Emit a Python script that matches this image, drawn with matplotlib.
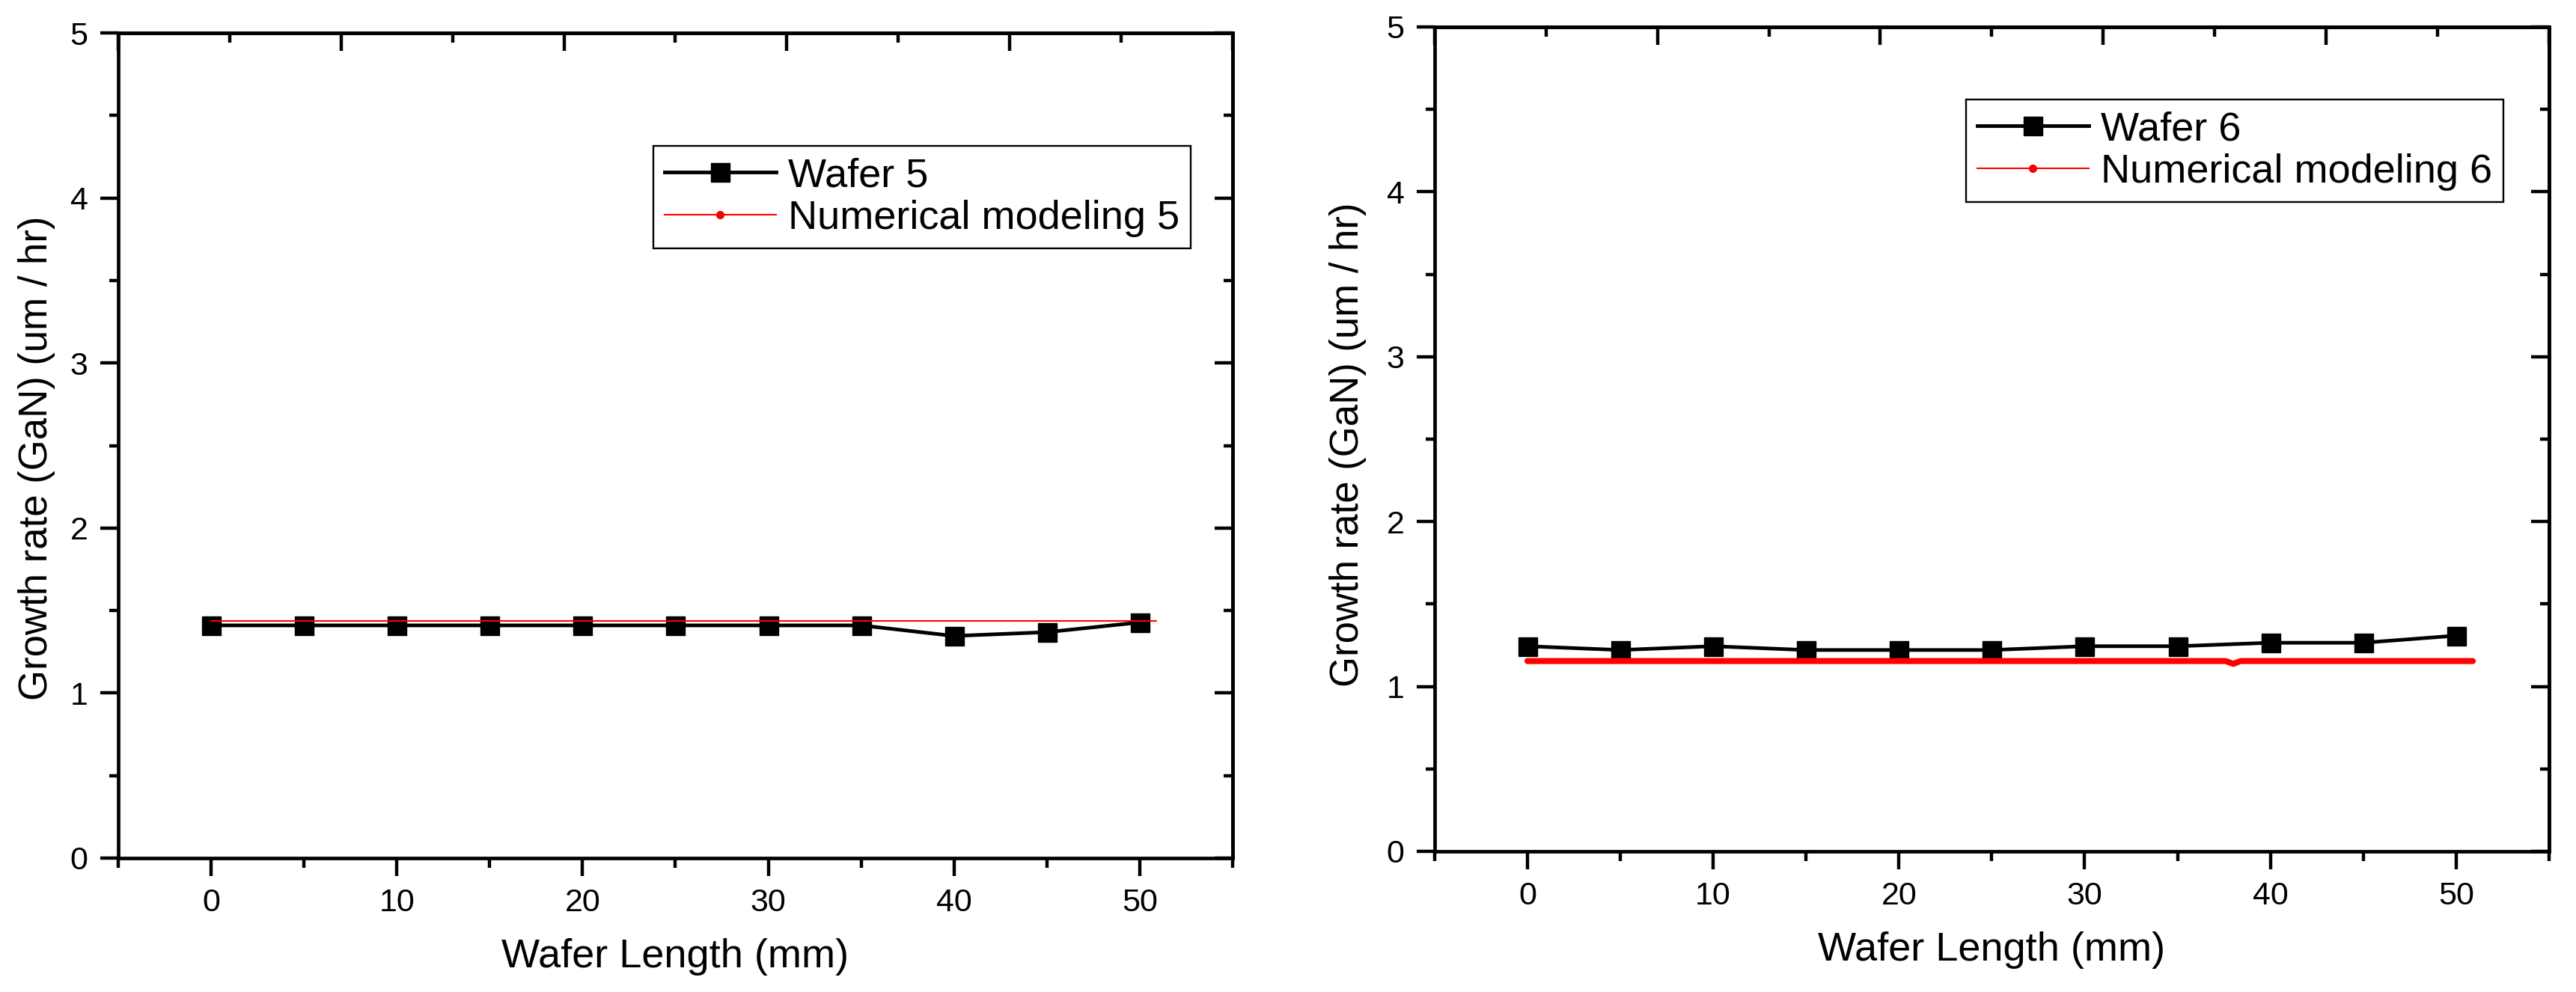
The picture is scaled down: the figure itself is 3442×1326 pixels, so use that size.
import matplotlib
matplotlib.use("Agg")
import matplotlib.pyplot as plt
from matplotlib.lines import Line2D
from matplotlib.ticker import MultipleLocator

plt.rcParams['font.family'] = ['Liberation Sans', 'DejaVu Sans']

# --- data ---
wafer_x = [0, 5, 10, 15, 20, 25, 30, 35, 40, 45, 50]
wafer5 = [1.41, 1.41, 1.41, 1.41, 1.41, 1.41, 1.41, 1.41, 1.346, 1.369, 1.428]
wafer6 = [1.244, 1.221, 1.244, 1.221, 1.221, 1.221, 1.244, 1.244, 1.265, 1.265, 1.308]

model5_x = [0, 50.9]
model5 = [1.437, 1.437]
model6_x = [0, 37.6, 38.0, 38.4, 50.9]
model6 = [1.154, 1.154, 1.137, 1.154, 1.154]

panels = [
    ("Wafer 5", "Numerical modeling 5", wafer5, model5_x, model5, 1.5),
    ("Wafer 6", "Numerical modeling 6", wafer6, model6_x, model6, 5.8),
]

x_label = "Wafer Length (mm)"
y_label = "Growth rate (GaN) (um / hr)"

fig = plt.figure(figsize=(34.42, 13.26), dpi=100)
ax_rects = [
    [0.0459, 0.1350, 0.4326, 0.8318],
    [0.5569, 0.1418, 0.4326, 0.8311],
]
legend_pos = [(873, 195), (2627, 133)]  # upper-left corner in pixels
ylabel_pos = [(-0.0564, 0.485), (-0.061, 0.493)]

for (w_lab, m_lab, w_y, m_x, m_y, m_lw), rect, lpos, ypos in zip(panels, ax_rects, legend_pos, ylabel_pos):
    ax = fig.add_axes(rect)
    ax.plot(m_x, m_y, color='red', lw=m_lw, solid_capstyle='round', zorder=3)
    ax.plot(wafer_x, w_y, color='black', lw=3.5, marker='s', ms=18, zorder=2)

    ax.set_xlim(-5, 55)
    ax.set_ylim(0, 5)
    ax.xaxis.set_major_locator(MultipleLocator(10))
    ax.xaxis.set_minor_locator(MultipleLocator(5))
    ax.yaxis.set_major_locator(MultipleLocator(1))
    ax.yaxis.set_minor_locator(MultipleLocator(0.5))
    ax.tick_params(which='major', direction='out', length=17, width=3.2,
                   labelsize=31, pad=12, top=False, right=False)
    ax.tick_params(which='minor', direction='out', length=9, width=3.2,
                   top=False, right=False)
    for s in ax.spines.values():
        s.set_linewidth(3.4)

    # Origin-style top / right axes with inward ticks
    top = ax.secondary_xaxis('top', functions=(lambda v: (v + 5) / 12.0,
                                                lambda t: t * 12.0 - 5))
    top.xaxis.set_major_locator(MultipleLocator(1))
    top.xaxis.set_minor_locator(MultipleLocator(0.5))
    top.tick_params(which='major', direction='in', length=17, width=3.2, labeltop=False)
    top.tick_params(which='minor', direction='in', length=9, width=3.2)
    top.spines['top'].set_linewidth(3.4)

    right = ax.secondary_yaxis('right')
    right.yaxis.set_major_locator(MultipleLocator(1))
    right.yaxis.set_minor_locator(MultipleLocator(0.5))
    right.tick_params(which='major', direction='in', length=17, width=3.2, labelright=False)
    right.tick_params(which='minor', direction='in', length=9, width=3.2)
    right.spines['right'].set_linewidth(3.4)

    ax.set_xlabel(x_label, fontsize=39)
    ax.set_ylabel(y_label, fontsize=38)
    ax.xaxis.set_label_coords(0.5, -0.097)
    ax.yaxis.set_label_coords(*ypos)

    handles = [
        Line2D([], [], color='black', lw=3.5, marker='s', ms=18),
        Line2D([], [], color='red', lw=1.5, marker='o', ms=7),
    ]
    leg = ax.legend(handles, [w_lab, m_lab], fontsize=39, loc='upper left',
                    bbox_to_anchor=(lpos[0] / 3442, 1 - lpos[1] / 1326),
                    bbox_transform=fig.transFigure, borderaxespad=0,
                    fancybox=False, framealpha=1, edgecolor='black',
                    handlelength=2.74, handletextpad=0.3, labelspacing=0.12,
                    borderpad=0.28)
    leg.get_frame().set_linewidth(1.7)

fig.savefig("out.png", dpi=100)
